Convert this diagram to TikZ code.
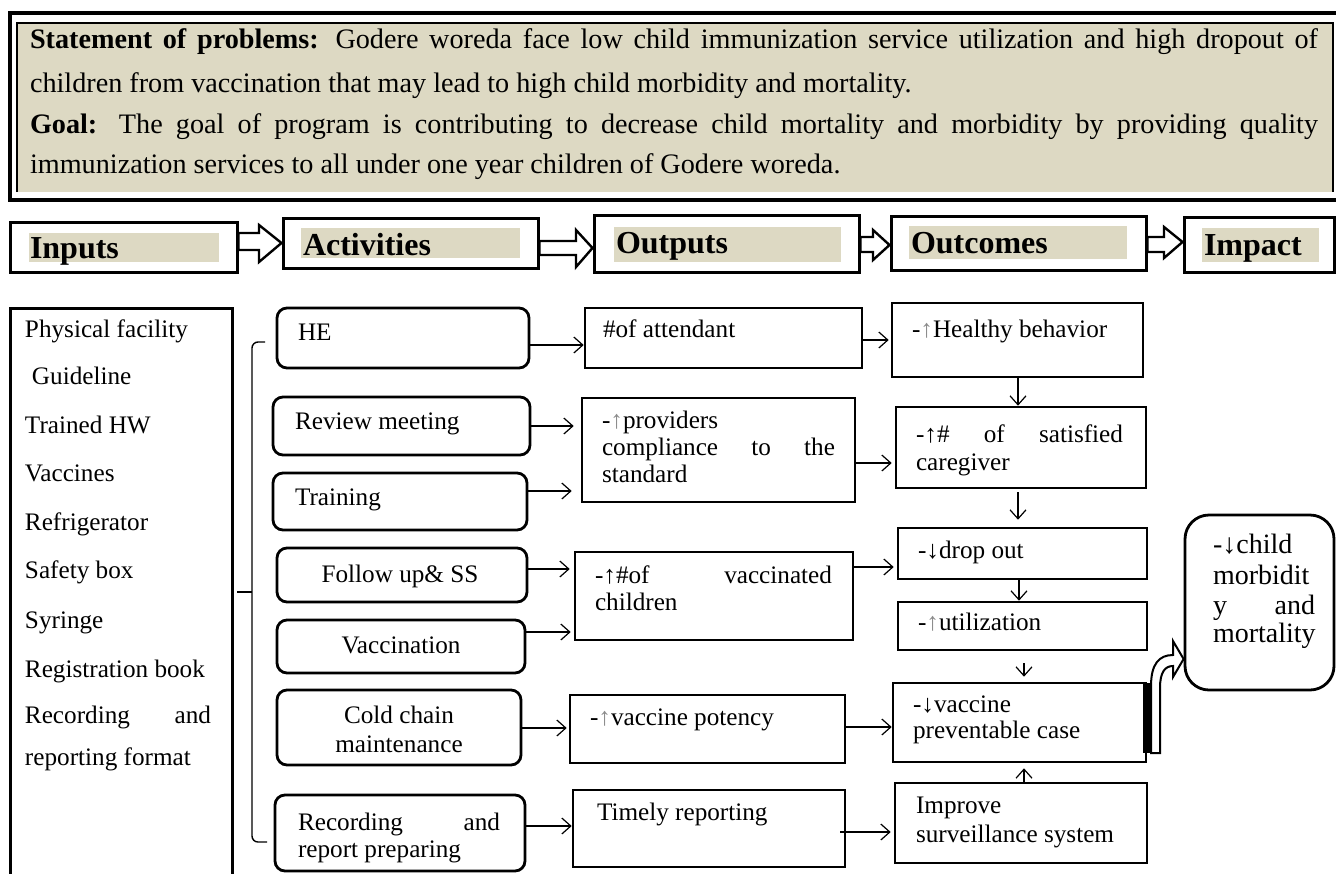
\documentclass[tikz,border=0pt]{standalone}
\usepackage{fontspec}
\setmainfont{Liberation Serif}
\usetikzlibrary{arrows.meta,fit}
\definecolor{tanbg}{HTML}{DDD9C3}
\newcommand\myBody{\fontsize{12.6pt}{14pt}\selectfont}
\newcommand\myTop{\fontsize{14.1pt}{16pt}\selectfont}
\newcommand\myHead{\fontsize{16pt}{18pt}\selectfont\bfseries}
\newcommand\myImp{\fontsize{14pt}{16pt}\selectfont}
\newcommand\ArrUpG{\textcolor{black!45}{↑}}
\begin{document}
\begin{tikzpicture}[x=0.5pt,y=-0.5pt,
  t/.style={anchor=base west, inner sep=0pt, outer sep=0pt, font=\myBody},
  tc/.style={anchor=base, inner sep=0pt, outer sep=0pt, font=\myBody},
  th/.style={anchor=base west, inner sep=0pt, outer sep=0pt, font=\myHead},
  ti/.style={anchor=base west, inner sep=0pt, outer sep=0pt, font=\myImp},
  hbox/.style={draw, line width=1.5pt, inner sep=0pt},
  rbox/.style={draw, line width=1.4pt, rounded corners=5pt, inner sep=0pt},
  sbox/.style={draw, line width=1.3pt, inner sep=0pt},
  conn/.style={line width=0.6pt, -{Straight Barb[length=4.5pt,width=8pt,line width=0.6pt]}},
  blockarrow/.style={draw, fill=white, line width=1.2pt, line join=miter},
]
\useasboundingbox (0,0) rectangle (1336,873);

% ---------- top statement box ----------
\node[fit={(10,13)(1350,200)}, draw, line width=1.7pt, inner sep=0pt] (topOuter) {};
\fill[tanbg] (17,23) rectangle (1333,192);
\draw[line width=0.8pt] (17,192) -- (17,23) -- (1333,23) -- (1333,192);
\node[t, font=\myTop] (L1) at (30,48) {\makebox[644pt][s]{\textbf{Statement of problems:} Godere woreda face low child immunization service utilization and high dropout of}};
\node[t, font=\myTop] (L2) at (30,92) {children from vaccination that may lead to high child morbidity and mortality.};
\node[t, font=\myTop] (L3) at (30,133) {\makebox[644pt][s]{\textbf{Goal:} The goal of program is contributing to decrease child mortality and morbidity by providing quality}};
\node[t, font=\myTop] (L4) at (30,173) {immunization services to all under one year children of Godere woreda.};

% ---------- header row ----------
\node[hbox, fit={(10,222)(237,272)}] (hIn) {};
\node[hbox, fit={(283,218)(538,268)}] (hAct) {};
\node[hbox, fit={(594,215)(859,272)}] (hOut) {};
\node[hbox, fit={(891,216)(1146,270)}] (hOc) {};
\node[hbox, fit={(1184,217)(1334,272)}] (hImp) {};
\fill[tanbg] (29,233) rectangle (219,262);
\fill[tanbg] (301,228) rectangle (520,258);
\fill[tanbg] (614,227) rectangle (841,262);
\fill[tanbg] (909,226) rectangle (1127,259);
\fill[tanbg] (1202,228) rectangle (1319,262);
\node[th] (tIn) at (30,258) {Inputs};
\node[th] (tAct) at (303,255) {Activities};
\node[th] (tOut) at (616,253) {Outputs};
\node[th] (tOc) at (911,253) {Outcomes};
\node[th] (tImp) at (1204,255) {Impact};

% hollow block arrows between header boxes
\path[blockarrow] (hIn.east |- 0,233) -- (259,233) -- (259,225) -- (hAct.west |- 0,243) -- (259,262) -- (259,250) -- (hIn.east |- 0,250) -- cycle;
\path[blockarrow] (hAct.east |- 0,241) -- (576,241) -- (576,230) -- (hOut.west |- 0,248) -- (576,267) -- (576,255) -- (hAct.east |- 0,255) -- cycle;
\path[blockarrow] (hOut.east |- 0,237) -- (873,237) -- (873,230) -- (hOc.west |- 0,245) -- (873,260) -- (873,252) -- (hOut.east |- 0,252) -- cycle;
\path[blockarrow] (hOc.east |- 0,237) -- (1164,237) -- (1164,227) -- (hImp.west |- 0,242) -- (1164,258) -- (1164,252) -- (hOc.east |- 0,252) -- cycle;

% ---------- inputs list ----------
\node[hbox, fit={(10,308)(232,900)}] (inBox) {};
\node[t] (i1) at (25,337) {Physical facility};
\node[t] (i2) at (32,384) {Guideline};
\node[t] (i3) at (25,433) {Trained HW};
\node[t] (i4) at (25,481) {Vaccines};
\node[t] (i5) at (25,530) {Refrigerator};
\node[t] (i6) at (25,578) {Safety box};
\node[t] (i7) at (25,628) {Syringe};
\node[t] (i8) at (25,677) {Registration book};
\node[t] (i9) at (25,723) {\makebox[93pt][s]{Recording and}};
\node[t] (i10) at (25,765) {reporting format};

% brace from inputs to activities
\coordinate (brTop) at (265,342);
\coordinate (brBot) at (267,842);
\coordinate (brTick) at (237,592);
\draw[line width=0.7pt, rounded corners=3pt] (brTop) -- (252,342) -- (252,842) -- (brBot);
\draw[line width=0.9pt] (brTick) -- (252,592);

% ---------- activities ----------
\node[rbox, fit={(277,308)(529,368)}] (he) {};
\node[rbox, fit={(273,397)(530,455)}] (rev) {};
\node[rbox, fit={(273,473)(527,530)}] (tra) {};
\node[rbox, fit={(277,548)(527,602)}] (fol) {};
\node[rbox, fit={(277,620)(525,673)}] (vac) {};
\node[rbox, fit={(277,690)(521,765)}] (cold) {};
\node[rbox, fit={(275,795)(525,871)}] (rec) {};
\node[t] (heT) at (298,340) {HE};
\node[t] (revT) at (295,429) {Review meeting};
\node[t] (traT) at (295,505) {Training};
\node[tc] (folT) at (400,582) {Follow up\& SS};
\node[tc] (vacT) at (401,653) {Vaccination};
\node[tc] (coldT1) at (399,723) {Cold chain};
\node[tc] (coldT2) at (399,752) {maintenance};
\node[t] (recT1) at (298,830) {\makebox[101pt][s]{Recording and}};
\node[t] (recT2) at (298,857) {report preparing};

% ---------- outputs ----------
\node[sbox, fit={(585,308)(862,368)}] (att) {};
\node[sbox, fit={(582,398)(855,502)}] (prov) {};
\node[sbox, fit={(575,552)(853,640)}] (vacd) {};
\node[sbox, fit={(570,695)(845,763)}] (pot) {};
\node[sbox, fit={(573,790)(845,867)}] (tim) {};
\node[t] (attT) at (603,337) {\#of attendant};
\node[t] (provT1) at (602,428) {-\ArrUpG providers};
\node[t] (provT2) at (602,455) {\makebox[116.5pt][s]{compliance to the}};
\node[t] (provT3) at (602,482) {standard};
\node[t] (vacdT1) at (595,583) {\makebox[118.5pt][s]{-↑\#of vaccinated}};
\node[t] (vacdT2) at (595,610) {children};
\node[t] (potT) at (590,725) {-\ArrUpG vaccine potency};
\node[t] (timT) at (597,820) {Timely reporting};

% ---------- outcomes ----------
\node[sbox, fit={(892,303)(1143,377)}] (hb) {};
\node[sbox, fit={(896,407)(1146,488)}] (sat) {};
\node[sbox, fit={(898,528)(1147,579)}] (drop) {};
\node[sbox, fit={(898,602)(1147,650)}] (util) {};
\node[sbox, fit={(893,683)(1146,762)}] (vpc) {};
\node[sbox, fit={(895,783)(1147,863)}] (surv) {};
\node[t] (hbT) at (912,337) {-\ArrUpG Healthy behavior};
\node[t] (satT1) at (916,442) {\makebox[103.5pt][s]{-↑\# of satisfied}};
\node[t] (satT2) at (916,470) {caregiver};
\node[t] (dropT) at (918,558) {-↓drop out};
\node[t] (utilT) at (918,630) {-\ArrUpG utilization};
\node[t] (vpcT1) at (913,712) {-↓vaccine};
\node[t] (vpcT2) at (913,738) {preventable case};
\node[t] (survT1) at (916,813) {Improve};
\node[t] (survT2) at (916,842) {surveillance system};

% ---------- impact ----------
\node[draw, line width=1.4pt, rounded corners=12pt, inner sep=0pt, fit={(1185,515)(1334,690)}] (imp) {};
\node[ti] (impT1) at (1213,553) {-↓child};
\node[ti] (impT2) at (1213,584) {morbidit};
\node[ti] (impT3) at (1213,614) {\makebox[51pt][s]{y and}};
\node[ti] (impT4) at (1213,642) {mortality};

% ---------- connectors: activities -> outputs ----------
\draw[conn] (he.east |- 0,345) -- (att.west |- 0,345);
\draw[conn, shorten >=3.5pt] (rev.east |- 0,426) -- (prov.west |- 0,426);
\draw[conn, shorten >=4.5pt] (tra.east |- 0,491) -- (prov.west |- 0,491);
\draw[conn, shorten >=2pt] (fol.east |- 0,569) -- (vacd.west |- 0,569);
\draw[conn, shorten >=1.5pt] (vac.east |- 0,632) -- (vacd.west |- 0,632);
\draw[conn, shorten >=1pt] (cold.east |- 0,728) -- (pot.west |- 0,728);
\draw[conn] (rec.east |- 0,826) -- (tim.west |- 0,826);

% ---------- connectors: outputs -> outcomes ----------
\draw[conn, shorten >=1pt] (att.east |- 0,340) -- (hb.west |- 0,340);
\draw[conn, shorten >=1.5pt] (prov.east |- 0,463) -- (sat.west |- 0,463);
\draw[conn, shorten >=1.5pt] (vacd.east |- 0,567) -- (drop.west |- 0,567);
\draw[conn] (pot.east |- 0,727) -- (vpc.west |- 0,727);
\draw[conn, shorten >=1.5pt] (840,832) -- (surv.west |- 0,832);

% ---------- connectors between outcomes ----------
\draw[conn] (hb.south -| 1018,0) -- (sat.north -| 1018,0);
\draw[conn, shorten <=1.5pt, shorten >=3.5pt] (sat.south -| 1018,0) -- (drop.north -| 1018,0);
\draw[conn] (drop.south -| 1019,0) -- (util.north -| 1019,0);
\draw[conn, shorten <=6pt, shorten >=2.5pt] (util.south -| 1024,0) -- (vpc.north -| 1024,0);
\draw[conn, shorten >=2.5pt] (surv.north -| 1024,0) -- (vpc.south -| 1024,0);

% ---------- bent hollow arrow to impact ----------
\fill (1143,683) rectangle (1151,753);
\path[draw, fill=white, line width=1pt, line join=miter]
  (1151,753) -- (1151,686) .. controls (1151,664) and (1159,655) .. (1173,655)
  -- (1173,641) -- (imp.west |- 0,659) -- (1173,677) -- (1173,666)
  .. controls (1165,666) and (1160,672) .. (1160,688) -- (1160,753) -- cycle;
\end{tikzpicture}
\end{document}
